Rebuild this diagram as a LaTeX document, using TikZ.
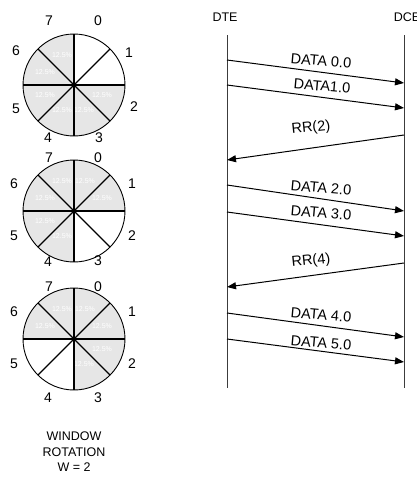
\documentclass[tikz,border=0pt]{standalone}
\usepackage{fontspec}
\setmainfont{Liberation Sans}
\usetikzlibrary{arrows.meta}
\definecolor{shade}{RGB}{230,230,230}
\definecolor{lifegray}{RGB}{60,60,60}
\tikzset{
  sectorfill/.style={fill=shade},
  spoke/.style={line width=1.1pt, black},
  rim/.style={line width=0.9pt, black},
  pct/.style={text=white, font=\fontsize{7}{8}\selectfont, inner sep=0pt},
  digit/.style={font=\fontsize{14}{16}\selectfont, inner sep=0pt},
  lifeline/.style={line width=1pt, draw=lifegray},
  msg/.style={line width=1pt, -{Triangle[length=9pt,width=7pt]}},
  msglabel/.style={font=\fontsize{14.5}{16}\selectfont, inner sep=0pt},
  party/.style={font=\fontsize{12.5}{14}\selectfont, inner sep=0pt},
  caption/.style={font=\fontsize{12.5}{15.5}\selectfont, align=center, inner sep=0pt},
}
% offsets of the percentage labels inside sector k (0 = top right, clockwise)
\def\pctdx{{11,28,28,10,-12,-29,-29,-12}}
\def\pctdy{{-30,-13,10,25,25,10,-13,-30}}
% #1 centre name, #2 shaded sectors
\newcommand\drawwheel[2]{%
  \foreach \k in {#2}{
    \fill[sectorfill] (#1) -- ++({90-45*\k}:51)
      arc[start angle={90-45*\k}, end angle={45-45*\k}, radius=51pt] -- cycle;
    \pgfmathsetmacro\dx{\pctdx[\k]}
    \pgfmathsetmacro\dy{\pctdy[\k]}
    \node[pct] (#1p\k) at ([shift={(\dx,-\dy)}]#1) {12.5\%};
  }
  \draw[rim] (#1) circle[radius=51pt];
  \foreach \a in {0,45,90,135}
    \draw[spoke] (#1) ++(\a:51) -- ++({\a+180}:102);
}
\begin{document}
\begin{tikzpicture}[x=1pt,y=1pt]
\useasboundingbox (0,0) rectangle (417,-477);

% ---- window wheels ----
\coordinate (w1) at (74,-85);
\coordinate (w2) at (74,-211);
\coordinate (w3) at (74,-339);
\drawwheel{w1}{2,3,4,5,6,7}
\drawwheel{w2}{0,1,4,5,6,7}
\drawwheel{w3}{0,1,2,3,6,7}

\foreach \k/\px/\py in {0/98/21,1/129/53,2/134/107,3/99/138,4/48/138,5/16/109,6/16/51,7/49/21}
  \node[digit] (w1d\k) at (\px,-\py) {\k};
\foreach \k/\px/\py in {0/98/158,1/132/184,2/132/236,3/98/261,4/48/262,5/14/236,6/14/184,7/49/158}
  \node[digit] (w2d\k) at (\px,-\py) {\k};
\foreach \k/\px/\py in {0/98/287,1/132/312,2/132/364,3/98/398,4/48/398,5/14/364,6/14/312,7/49/287}
  \node[digit] (w3d\k) at (\px,-\py) {\k};

\node[caption] (cap) at (74,-452) {WINDOW\\ROTATION\\W = 2};

% ---- exchange between DTE and DCE ----
\node[party] (dte) at (225,-17) {DTE};
\node[party] (dce) at (407,-17) {DCE};
\coordinate (dteTop) at (227,-35);
\coordinate (dteBot) at (227,-388);
\coordinate (dceTop) at (404,-35);
\coordinate (dceBot) at (404,-388);
\draw[lifeline] (dteTop) -- (dteBot);
\draw[lifeline] (dceTop) -- (dceBot);

\foreach \n/\ya/\yb in {a/60/83, b/85/108, c/160/135, d/185/211, e/212/236, f/287/263, g/313/337, h/339/362}{
  \coordinate (l\n) at (227,-\ya);
  \coordinate (r\n) at (404,-\yb);
}
\draw[msg] (la) -- (ra);
\draw[msg] (lb) -- (rb);
\draw[msg] (rc) -- (lc);
\draw[msg] (ld) -- (rd);
\draw[msg] (le) -- (re);
\draw[msg] (rf) -- (lf);
\draw[msg] (lg) -- (rg);
\draw[msg] (lh) -- (rh);

\node[msglabel, rotate=-5] (ta) at (321,-61) {DATA 0.0};
\node[msglabel, rotate=-5] (tb) at (322,-86) {DATA1.0};
\node[msglabel, rotate=6]  (tc) at (311,-128) {RR(2)};
\node[msglabel, rotate=-5] (td) at (321,-188) {DATA 2.0};
\node[msglabel, rotate=-5] (te) at (321,-213) {DATA 3.0};
\node[msglabel, rotate=6]  (tf) at (311,-261) {RR(4)};
\node[msglabel, rotate=-5] (tg) at (321,-315) {DATA 4.0};
\node[msglabel, rotate=-5] (th) at (321,-343) {DATA 5.0};
\end{tikzpicture}
\end{document}
